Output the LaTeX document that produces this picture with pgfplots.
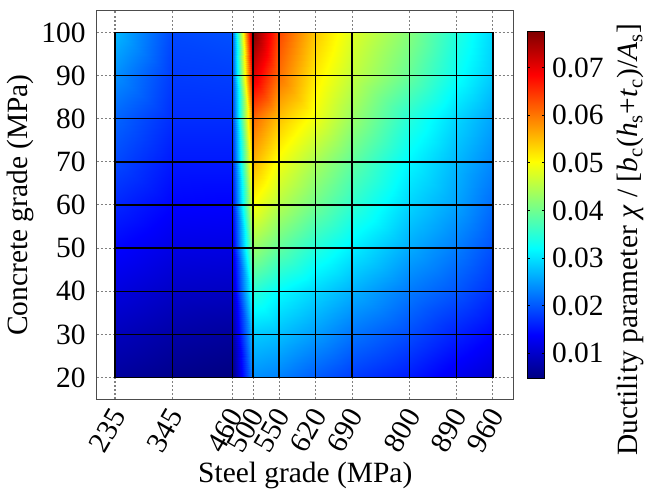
\documentclass[border=0pt]{standalone}
\usepackage{fontspec}
\setmainfont{Liberation Serif}
\usepackage{pgfplots}
\pgfplotsset{compat=1.18}

\pgfplotstableread{
x y v
235 20 0.0068
345 20 0.0055
460 20 0.0047
500 20 0.0240
550 20 0.0230
620 20 0.0203
690 20 0.0180
800 20 0.0155
890 20 0.0125
960 20 0.0105

235 30 0.0090
345 30 0.0075
460 30 0.0068
500 30 0.0284
550 30 0.0275
620 30 0.0250
690 30 0.0222
800 30 0.0192
890 30 0.0162
960 30 0.0140

235 40 0.0115
345 40 0.0098
460 40 0.0095
500 40 0.0350
550 40 0.0320
620 40 0.0292
690 40 0.0265
800 40 0.0225
890 40 0.0200
960 40 0.0172

235 50 0.0140
345 50 0.0120
460 50 0.0118
500 50 0.0430
550 50 0.0390
620 50 0.0345
690 50 0.0310
800 50 0.0260
890 50 0.0228
960 50 0.0195

235 60 0.0165
345 60 0.0140
460 60 0.0138
500 60 0.0500
550 60 0.0450
620 60 0.0400
690 60 0.0355
800 60 0.0290
890 60 0.0255
960 60 0.0215

235 70 0.0190
345 70 0.0155
460 70 0.0155
500 70 0.0557
550 70 0.0495
620 70 0.0440
690 70 0.0390
800 70 0.0315
890 70 0.0270
960 70 0.0235

235 80 0.0210
345 80 0.0170
460 80 0.0170
500 80 0.0610
550 80 0.0545
620 80 0.0490
690 80 0.0430
800 80 0.0345
890 80 0.0292
960 80 0.0255

235 90 0.0240
345 90 0.0180
460 90 0.0182
500 90 0.0710
550 90 0.0605
620 90 0.0515
690 90 0.0460
800 90 0.0392
890 90 0.0328
960 90 0.0283

235 100 0.0270
345 100 0.0190
460 100 0.0195
500 100 0.0776
550 100 0.0635
620 100 0.0540
690 100 0.0480
800 100 0.0415
890 100 0.0345
960 100 0.0292
}\ductility

\begin{document}
\begin{tikzpicture}
\begin{axis}[
  scale only axis, width=205.5pt, height=191.3pt,
  xmin=200, xmax=1000, ymin=15, ymax=105,
  xtick={235,345,460,500,550,620,690,800,890,960},
  ytick={20,30,40,50,60,70,80,90,100},
  xmajorgrids, ymajorgrids,
  grid style={gray, dash pattern=on 1pt off 1pt, line width=0.5pt},
  major tick length=0pt,
  axis line style={black!70, line width=0.5pt},
  /pgf/number format/assume math mode=true,
  tick label style={font=\fontsize{14.5}{17}\selectfont},
  label style={font=\fontsize{14.5}{17}\selectfont},
  xticklabel style={xshift=3.5pt, yshift=-3pt, rotate=60, anchor=east},
  yticklabel shift=2pt,
  ylabel shift=-3pt,
  xlabel shift=-4.5pt,
  xlabel={Steel grade (MPa)}, ylabel={Concrete grade (MPa)},
  colormap/jet,
  point meta min=0.0047, point meta max=0.0776,
  colorbar,
  colorbar shift/.style={xshift=6.5pt},
  colorbar style={
    at={(parent axis.east)}, anchor=west,
    width=8.8pt, height=171pt,
    ytick={0.01,0.02,0.03,0.04,0.05,0.06,0.07},
    scaled y ticks=false,
    /pgf/number format/assume math mode=true,
    yticklabel style={/pgf/number format/fixed, /pgf/number format/precision=2,
      /pgf/number format/fixed zerofill, font=\fontsize{14.5}{17}\selectfont},
    major tick length=1.5pt,
    ytick style={black, line width=0.5pt},
    axis line style={black, line width=0.5pt},
    ytick pos=both, yticklabel pos=right,
    ylabel={\fontsize{14.5}{17}\selectfont Ductility parameter \textit{χ} / [\textit{b}\textsubscript{c}(\textit{h}\textsubscript{s}+\textit{t}\textsubscript{c})/\textit{A}\textsubscript{s}]},
    ylabel style={at={(ticklabel cs:0.40)}},
  },
]
\addplot[surf, shader=faceted interp, faceted color=black, line width=0.75pt,
  mesh/cols=10, point meta=explicit] table[x=x, y=y, meta=v] {\ductility};
\end{axis}
% white space above the frame, as in the reference
\path ([yshift=5.35pt]current axis.north);
\end{tikzpicture}
\end{document}
